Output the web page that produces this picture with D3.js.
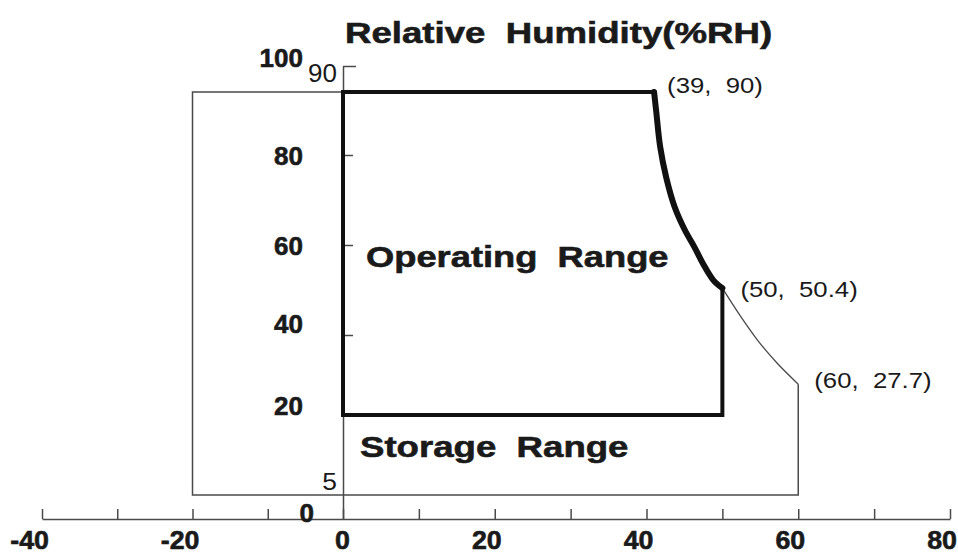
<!DOCTYPE html>
<html>
<head>
<meta charset="utf-8">
<script src="https://cdn.jsdelivr.net/npm/d3@7"></script>
<style>
  body { margin: 0; background: #fff; }
  svg text { font-family: "Liberation Sans", Arial, sans-serif; white-space: pre; fill: #1a1a1a; }
  svg text.bold { font-weight: bold; stroke: #1a1a1a; stroke-width: 0.6; }
</style>
</head>
<body>
<svg></svg>
<script>
const width = 958;
const height = 554;

// axis ticks and labels
const xTicks = [-40, -30, -20, -10, 0, 10, 20, 30, 40, 50, 60, 70, 80];
const xLabels = [-40, -20, 0, 20, 40, 60, 80];
const yTicks = [100, 80, 60, 40];
const yLabels = [100, 80, 60, 40, 20, 0];

// operating range box (temperature, RH)
const operatingX = [0, 50];
const operatingY = [20, 90];
// storage range box
const storageX = [-20, 60];
const storageY = [5, 90];

// upper limit curves
const operatingCurve = [
	[41.0, 90], [41.3, 86.7], [41.8, 81.3], [42.6, 75.0], [43.7, 68.5],
	[45.0, 63.5], [46.3, 59.6], [47.4, 56.0], [48.8, 52.2], [50, 50.4]
];
const storageCurve = [
	[50, 50.4], [52.3, 44.4], [54.6, 38.8], [57.2, 33.0], [60, 27.7]
];

const pointNames = ['(39,  90)', '(50,  50.4)', '(60,  27.7)'];
const pointAt = [[41.0, 90], [50, 50.4], [60, 27.7]];

const svg = d3.select('svg')
	.attr('width', width)
	.attr('height', height);

// the drawing is not uniform, so both scales are piecewise
const xScale = d3.scaleLinear()
	.domain([-40, 0, 80])
	.range([42, 343, 950]);

const yScale = d3.scaleLinear()
	.domain([0, 5, 20, 40, 60, 80, 90, 100])
	.range([519, 495, 415, 335, 245, 155, 92, 66]);

const thin = '#4a4a4a';
const thick = '#111';

// stretch text horizontally like the original wide typeface
const stretchText = (sel, k, anchor) => {
	sel.each(function() {
		const t = d3.select(this);
		const w = this.getComputedTextLength() * k;
		const x = +t.attr('x');
		const left = anchor === 'middle' ? x - w / 2 : anchor === 'end' ? x - w : x;
		t.attr('x', left)
			.attr('text-anchor', 'start')
			.attr('textLength', w)
			.attr('lengthAdjust', 'spacingAndGlyphs');
	});
};

// x axis
const xAxisG = svg.append('g')
	.attr('transform', `translate(0, ${yScale(0)})`)
	.call(d3.axisBottom(xScale).tickValues(xTicks).tickSizeInner(-10).tickSizeOuter(0).tickFormat(''));
xAxisG.select('.domain').attr('stroke', thin).attr('stroke-width', 1.5);
xAxisG.selectAll('.tick line').attr('stroke', thin).attr('stroke-width', 1.5);

svg.append('g').selectAll('text').data(xLabels)
	.enter().append('text')
	.attr('class', 'bold')
	.attr('x', d => xScale(d) + 7)
	.attr('y', 549)
	.attr('font-size', 26)
	.text(d => d)
	.call(stretchText, 1.03, 'end');

// y axis
const yAxisG = svg.append('g')
	.attr('transform', `translate(${xScale(0)}, 0)`)
	.call(d3.axisRight(yScale).tickValues(yTicks).tickSize(10).tickSizeOuter(0).tickFormat(''));
yAxisG.select('.domain').attr('stroke', thin).attr('stroke-width', 1.5);
yAxisG.selectAll('.tick line').attr('stroke', thin).attr('stroke-width', 1.5);
yAxisG.selectAll('.tick').filter(d => d === 100).select('line').attr('x2', 13);

const yLabelShift = { 100: 1, 80: 10, 60: 10, 40: -2, 20: 0, 0: 3 };
svg.append('g').selectAll('text').data(yLabels)
	.enter().append('text')
	.attr('class', 'bold')
	.attr('x', d => d === 0 ? 314 : 303)
	.attr('y', d => yScale(d) + yLabelShift[d])
	.attr('font-size', 26)
	.text(d => d)
	.call(stretchText, 1.0, 'end');

// small plain labels at the top of the axis and the storage floor
svg.append('text')
	.attr('x', 337).attr('y', yScale(100) + 16)
	.attr('font-size', 25)
	.text(operatingY[1])
	.call(stretchText, 1.04, 'end');
svg.append('text')
	.attr('x', 337).attr('y', yScale(storageY[0]) - 5)
	.attr('font-size', 24)
	.text(storageY[0])
	.call(stretchText, 1.1, 'end');

const line = d3.line().x(d => xScale(d[0])).y(d => yScale(d[1]));
const smooth = d3.line().x(d => xScale(d[0])).y(d => yScale(d[1])).curve(d3.curveCatmullRom);

// storage range outline: straight edges plus the two limit curves
const storageEdges = [
	[storageCurve[storageCurve.length - 1][0], storageCurve[storageCurve.length - 1][1]],
	[storageX[1], storageY[0]],
	[storageX[0], storageY[0]],
	[storageX[0], storageY[1]],
	[operatingCurve[0][0], storageY[1]]
];
svg.append('path')
	.attr('d', line(storageEdges))
	.attr('fill', 'none')
	.attr('stroke', thin)
	.attr('stroke-width', 1.5);
svg.append('path')
	.attr('d', smooth(storageCurve))
	.attr('fill', 'none')
	.attr('stroke', thin)
	.attr('stroke-width', 1.3);

// operating range outline
const operatingEdges = [
	[operatingCurve[0][0], operatingY[1]],
	[operatingX[0], operatingY[1]],
	[operatingX[0], operatingY[0]],
	[operatingX[1], operatingY[0]],
	[operatingX[1], operatingCurve[operatingCurve.length - 1][1]]
];
svg.append('path')
	.attr('d', line(operatingEdges))
	.attr('fill', 'none')
	.attr('stroke', thick)
	.attr('stroke-width', 4)
	.attr('stroke-linejoin', 'miter');

svg.append('path')
	.attr('d', smooth(operatingCurve))
	.attr('fill', 'none')
	.attr('stroke', thick)
	.attr('stroke-width', 6)
	.attr('stroke-linecap', 'round')
	.attr('stroke-linejoin', 'round');

// point annotations
const pointShift = [[13, 1], [18, 9], [16, 4]];
svg.append('g').selectAll('text').data(pointNames)
	.enter().append('text')
	.attr('x', (d, i) => xScale(pointAt[i][0]) + pointShift[i][0])
	.attr('y', (d, i) => yScale(pointAt[i][1]) + pointShift[i][1])
	.attr('font-size', 22)
	.text(d => d)
	.call(stretchText, 1.17, 'start');

// titles
svg.append('text')
	.attr('class', 'bold')
	.attr('x', 345).attr('y', 43)
	.attr('font-size', 30)
	.text('Relative  Humidity(%RH)')
	.call(stretchText, 1.22, 'start');

svg.append('text')
	.attr('class', 'bold')
	.attr('x', 366).attr('y', 267)
	.attr('font-size', 30)
	.text('Operating  Range')
	.call(stretchText, 1.21, 'start');

svg.append('text')
	.attr('class', 'bold')
	.attr('x', 360).attr('y', 457)
	.attr('font-size', 30)
	.text('Storage  Range')
	.call(stretchText, 1.22, 'start');
</script>
</body>
</html>
